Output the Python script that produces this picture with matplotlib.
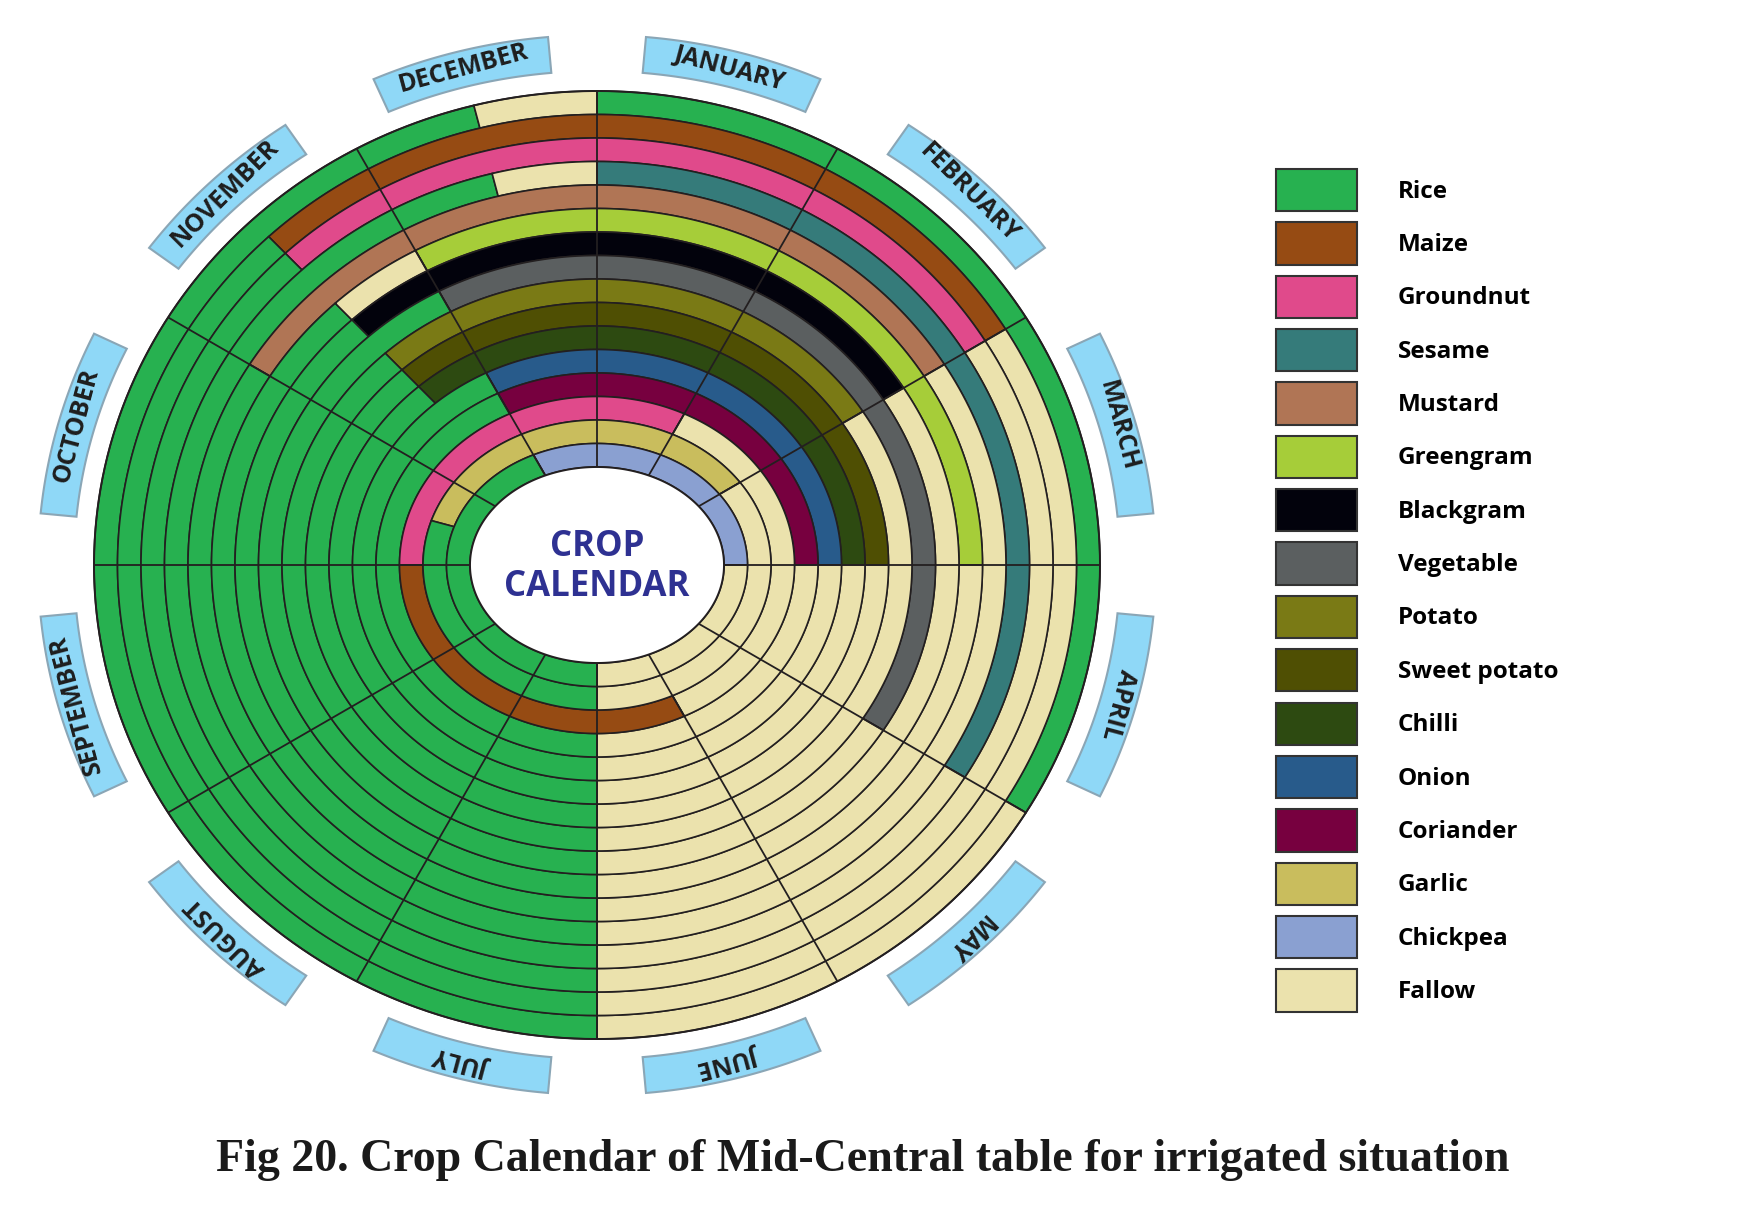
import numpy as np
import matplotlib
matplotlib.use("Agg")
import matplotlib.pyplot as plt
from matplotlib.patches import Patch

# ---------------- data ----------------
months = ["JANUARY", "FEBRUARY", "MARCH", "APRIL", "MAY", "JUNE",
          "JULY", "AUGUST", "SEPTEMBER", "OCTOBER", "NOVEMBER", "DECEMBER"]

crops = ["Rice", "Maize", "Groundnut", "Sesame", "Mustard", "Greengram",
         "Blackgram", "Vegetable", "Potato", "Sweet potato", "Chilli",
         "Onion", "Coriander", "Garlic", "Chickpea", "Fallow"]

# each ring (outermost first): (crop, start month, end month); months counted from 1 Jan = 0
ring01 = [("Rice", 0, 4), ("Fallow", 4, 6), ("Rice", 6, 11.5), ("Fallow", 11.5, 12)]
ring02 = [("Maize", 10.5, 2), ("Fallow", 2, 6), ("Rice", 6, 10.5)]
ring03 = [("Groundnut", 10.5, 2), ("Fallow", 2, 6), ("Rice", 6, 10.5)]
ring04 = [("Sesame", 0, 4), ("Fallow", 4, 6), ("Rice", 6, 11.5), ("Fallow", 11.5, 12)]
ring05 = [("Mustard", 10, 2), ("Fallow", 2, 6), ("Rice", 6, 10)]
ring06 = [("Greengram", 11, 3), ("Fallow", 3, 6), ("Rice", 6, 10.5), ("Fallow", 10.5, 11)]
ring07 = [("Blackgram", 10.5, 2), ("Fallow", 2, 6), ("Rice", 6, 10.5)]
ring08 = [("Vegetable", 11, 4), ("Fallow", 4, 6), ("Rice", 6, 11)]
ring09 = [("Potato", 10.5, 2), ("Fallow", 2, 6), ("Rice", 6, 10.5)]
ring10 = [("Sweet potato", 10.5, 3), ("Fallow", 3, 6), ("Rice", 6, 10.5)]
ring11 = [("Chilli", 10.5, 3), ("Fallow", 3, 6), ("Rice", 6, 10.5)]
ring12 = [("Onion", 11, 3), ("Fallow", 3, 6), ("Rice", 6, 11)]
ring13 = [("Coriander", 11, 3), ("Fallow", 3, 6), ("Rice", 6, 11)]
ring14 = [("Groundnut", 9, 1), ("Fallow", 1, 5), ("Maize", 5, 9)]
ring15 = [("Garlic", 9.5, 2), ("Fallow", 2, 6), ("Rice", 6, 9.5)]
ring16 = [("Chickpea", 11, 3), ("Fallow", 3, 6), ("Rice", 6, 11)]
rings = [ring01, ring02, ring03, ring04, ring05, ring06, ring07, ring08,
         ring09, ring10, ring11, ring12, ring13, ring14, ring15, ring16]

title = "Fig 20. Crop Calendar of Mid-Central table for irrigated situation"
center_label = "CROP\nCALENDAR"

# ---------------- styles ----------------
crop_colors = {
    "Rice": "#27b150", "Maize": "#964b13", "Groundnut": "#e04a8b",
    "Sesame": "#357b7a", "Mustard": "#b07555", "Greengram": "#a6cd39",
    "Blackgram": "#02020c", "Vegetable": "#5b5f60", "Potato": "#7a7a15",
    "Sweet potato": "#4f4f03", "Chilli": "#2d4a11", "Onion": "#285b8b",
    "Coriander": "#77003f", "Garlic": "#c9bd5d", "Chickpea": "#8aa0d1",
    "Fallow": "#ebe2ad",
}
EDGE = "#231f20"
TAB_FILL = "#8fd8f7"
TAB_EDGE = "#8aa6b6"
SANS = ["Open Sans", "DejaVu Sans"]

# layout (pixel space)
W, H = 1740, 1211
CX, CY = 597, 565
A0, B0 = 127, 98        # inner hole semi-axes
T = 23.5                # ring thickness
TAB_IN, TAB_OUT = 20, 56
TAB_HALF = 9.7          # degrees

fig = plt.figure(figsize=(W / 100, H / 100), dpi=100)
ax = fig.add_axes([0, 0, 1, 1])
ax.set_xlim(0, W)
ax.set_ylim(H, 0)
ax.axis("off")


def ell_point(theta_deg, d):
    a, b = A0 + d, B0 + d
    t = np.radians(theta_deg)
    s, c = np.sin(t), np.cos(t)
    r = 1.0 / np.sqrt((s / a) ** 2 + (c / b) ** 2)
    return CX + r * s, CY - r * c


def band(m0, m1, d0, d1, n=120):
    th = np.linspace(m0 * 30, m1 * 30, n)
    xo, yo = ell_point(th, d1)
    xi, yi = ell_point(th[::-1], d0)
    return np.concatenate([xo, xi]), np.concatenate([yo, yi])


n_rings = len(rings)
for idx, ring in enumerate(rings):
    k = n_rings - 1 - idx           # 0 = innermost
    d0, d1 = k * T, (k + 1) * T
    for crop, m0, m1 in ring:
        if m1 <= m0:
            m1 += 12
        xs, ys = band(m0, m1, d0, d1)
        ax.fill(xs, ys, facecolor=crop_colors[crop], edgecolor=EDGE,
                linewidth=1.2, zorder=2)

# month dividing lines
D_OUT = n_rings * T
for m in range(12):
    x0, y0 = ell_point(m * 30, 0)
    x1, y1 = ell_point(m * 30, D_OUT)
    ax.plot([x0, x1], [y0, y1], color=EDGE, lw=1.3, zorder=3,
            solid_capstyle="butt")

# outer and inner outlines
th = np.linspace(0, 360, 600)
xo, yo = ell_point(th, D_OUT)
ax.plot(xo, yo, color=EDGE, lw=1.4, zorder=4)
xh, yh = ell_point(th, 0)
ax.fill(xh, yh, facecolor="white", edgecolor=EDGE, lw=1.4, zorder=4)

ax.text(CX, CY + 2, center_label, ha="center", va="center", color="#2e3192",
        fontsize=25, fontweight="bold", family=SANS, linespacing=1.12,
        zorder=5)

# month tabs
for i, name in enumerate(months):
    mc = (i + 0.5) * 30
    th = np.linspace(mc - TAB_HALF, mc + TAB_HALF, 60)
    xa, ya = ell_point(th, D_OUT + TAB_OUT)
    xb, yb = ell_point(th[::-1], D_OUT + TAB_IN)
    ax.fill(np.concatenate([xa, xb]), np.concatenate([ya, yb]),
            facecolor=TAB_FILL, edgecolor=TAB_EDGE, lw=1.5, zorder=2)
    xt, yt = ell_point(mc, D_OUT + (TAB_IN + TAB_OUT) / 2)
    ax.text(xt, yt, name, ha="center", va="center", rotation=-mc,
            rotation_mode="anchor", fontsize=18, fontweight="bold",
            family=SANS, color="#1e1e1e", zorder=5)

# legend
handles = [Patch(facecolor=crop_colors[c], edgecolor="#333333", linewidth=1.5)
           for c in crops]
leg = ax.legend(handles, crops, loc="upper left", bbox_to_anchor=(1276, 169),
                bbox_transform=ax.transData, frameon=False, borderpad=0,
                borderaxespad=0, handlelength=3.35, handleheight=2.3,
                labelspacing=0.455, handletextpad=1.65,
                prop={"family": SANS, "weight": "bold", "size": 17.5})

ax.text(863, 1160, title, ha="center", va="center", fontsize=33,
        fontweight="bold", family="Liberation Serif", color="#1a1a1a")

fig.savefig("out.png", dpi=100, facecolor="white")
